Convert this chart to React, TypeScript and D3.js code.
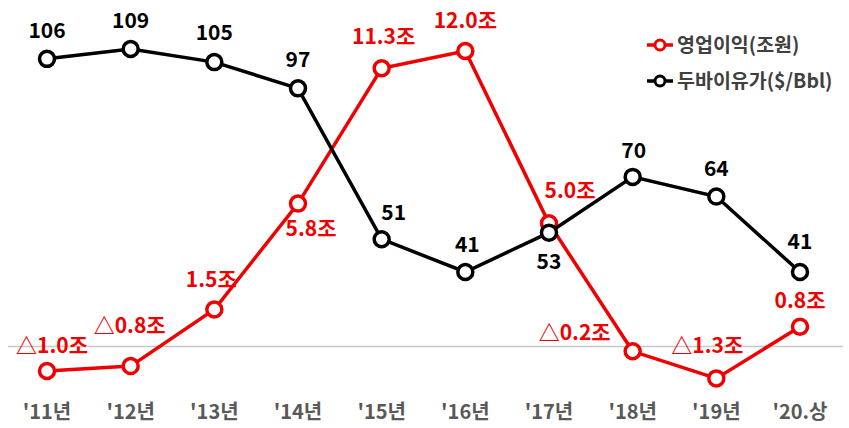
import React from 'react';
import * as d3 from 'd3';

const years: string[] = ["'11년", "'12년", "'13년", "'14년", "'15년", "'16년", "'17년", "'18년", "'19년", "'20.상"];
const profit: number[] = [-1.0, -0.8, 1.5, 5.8, 11.3, 12.0, 5.0, -0.2, -1.3, 0.8];
const oil: number[] = [106, 109, 105, 97, 51, 41, 53, 70, 64, 41];
const profitLabels: string[] = ['△1.0조', '△0.8조', '1.5조', '5.8조', '11.3조', '12.0조', '5.0조', '△0.2조', '△1.3조', '0.8조'];
const seriesNames: string[] = ['영업이익(조원)', '두바이유가($/Bbl)'];

// label nudges (px) relative to each point
const profitDx: number[] = [5, -1, -3, 13, 2, 0, 21, -58, -9, 0];
const profitDy: number[] = [-18, -33, -22, 32, -24, -23, -25, -11, -25, -19];
const oilDx: number[] = [0, 0, 0, 0, 12, 2, 0, 1, 0, 0];
const oilDy: number[] = [-21, -21, -22, -21, -19, -20, 36, -19, -21, -23];

const width = 849;
const height = 428;
const RED = '#f00000';
const font = "'Noto Sans CJK KR', 'Noto Sans', sans-serif";

export default function App() {
  const x = d3.scaleLinear().domain([0, years.length - 1]).range([47, 800]);
  const yProfit = d3.scaleLinear().domain([-1, 12]).range([371, 51]);
  const yOil = d3.scaleLinear().domain([41, 109]).range([272, 49]);

  const profitPath = d3.line<number>().x((d, i) => x(i)).y((d) => yProfit(d))(profit) as string;
  const oilPath = d3.line<number>().x((d, i) => x(i)).y((d) => yOil(d))(oil) as string;

  return (
    <svg width={width} height={height} style={{ position: 'absolute', left: 0, top: 0 }} fontFamily={font}>
      <rect width={width} height={height} fill="#fff" />
      {/* zero line */}
      <line x1={8} x2={843} y1={yProfit(0)} y2={yProfit(0)} stroke="#c8c8c8" strokeWidth={1.5} />

      {/* operating profit */}
      <path d={profitPath} fill="none" stroke={RED} strokeWidth={3.5} />
      {profit.map((d, i) => (
        <circle key={'p' + i} cx={x(i)} cy={yProfit(d)} r={7.5} fill="#fff" stroke={RED} strokeWidth={3.5} />
      ))}

      {/* oil price */}
      <path d={oilPath} fill="none" stroke="#000" strokeWidth={3.5} />
      {oil.map((d, i) => (
        <circle key={'o' + i} cx={x(i)} cy={yOil(d)} r={7.5} fill="#fff" stroke="#000" strokeWidth={3.5} />
      ))}

      {profit.map((d, i) => (
        <text key={'pt' + i} x={x(i) + profitDx[i]} y={yProfit(d) + profitDy[i]} textAnchor="middle"
          fontSize={21} fontWeight={700} fill={RED}>{profitLabels[i]}</text>
      ))}
      {oil.map((d, i) => (
        <text key={'ot' + i} x={x(i) + oilDx[i]} y={yOil(d) + oilDy[i]} textAnchor="middle"
          fontSize={21} fontWeight={700} fill="#000">{d}</text>
      ))}

      {/* x axis labels */}
      {years.map((d, i) => (
        <text key={'y' + i} x={x(i)} y={419} textAnchor="middle" fontSize={20} fontWeight={700} fill="#595959">{d}</text>
      ))}

      {/* legend */}
      {seriesNames.map((name, i) => {
        const ly = 45 + i * 36;
        const c = i === 0 ? RED : '#000';
        return (
          <g key={'l' + i}>
            <line x1={647} x2={673} y1={ly} y2={ly} stroke={c} strokeWidth={3.5} />
            <circle cx={660} cy={ly} r={5} fill="#fff" stroke={c} strokeWidth={3} />
            <text x={677} y={ly + 7} fontSize={19.5} fontWeight={700} fill="#404040">{name}</text>
          </g>
        );
      })}
    </svg>
  );
}
